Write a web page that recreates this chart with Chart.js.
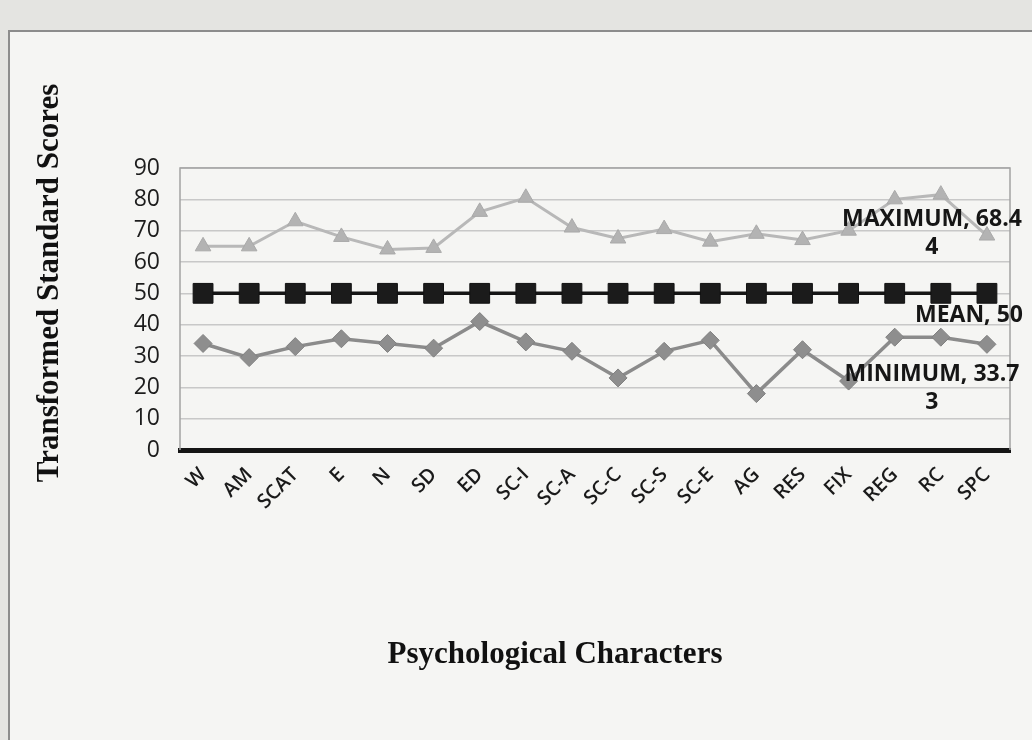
<!DOCTYPE html>
<html>
<head>
<meta charset="utf-8">
<title>Psychological Characters</title>
<script src="https://cdn.jsdelivr.net/npm/chart.js@4.4.1/dist/chart.umd.min.js"></script>
<style>
    html, body { margin: 0; padding: 0; }
    body { width: 1032px; height: 740px; background: #e4e4e1; position: relative; overflow: hidden; }
    .frame {
        position: absolute; left: 8px; top: 30px; width: 1040px; height: 730px;
        border-left: 2px solid #8c8c8c; border-top: 2px solid #8c8c8c;
        background: #f5f5f3;
    }
    #profileChart { position: absolute; left: 0; top: 0; }
</style>
</head>
<body>
<div class="frame"></div>
<canvas id="profileChart" width="1032" height="740"></canvas>
<script>
'use strict';

// T-score profile per psychological character
var characters = ['W', 'AM', 'SCAT', 'E', 'N', 'SD', 'ED', 'SC-I', 'SC-A', 'SC-C',
                  'SC-S', 'SC-E', 'AG', 'RES', 'FIX', 'REG', 'RC', 'SPC'];
var maximum = [65, 65, 73, 68, 64, 64.5, 76, 80.5, 71, 67.5, 70.5, 66.5, 69, 67, 70, 80, 81.5, 68.44];
var mean    = [50, 50, 50, 50, 50, 50, 50, 50, 50, 50, 50, 50, 50, 50, 50, 50, 50, 50];
var minimum = [34, 29.5, 33, 35.5, 34, 32.5, 41, 34.5, 31.5, 23, 31.5, 35, 18, 32, 22, 36, 36, 33.73];
var scoreTicks = { min: 0, max: 90, step: 10 };

var sans = '"Open Sans", "Liberation Sans", sans-serif';
var serif = '"Liberation Serif", "Times New Roman", serif';

// char-wrap a label so it never gets wider than the label box
function wrapLabel(ctx, text, width) {
    var lines = [], line = '';
    for (var i = 0; i < text.length; i++) {
        var next = line + text[i];
        if (line && ctx.measureText(next).width > width) {
            lines.push(line);
            line = text[i];
        } else {
            line = next;
        }
    }
    if (line) lines.push(line);
    return lines;
}

// thin frame round the plot (bottom edge is the axis line)
var plotFrame = {
    id: 'plotFrame',
    beforeDatasetsDraw: function (chart) {
        var a = chart.chartArea, ctx = chart.ctx;
        ctx.save();
        ctx.strokeStyle = '#a3a3a3';
        ctx.lineWidth = 1.5;
        ctx.beginPath();
        ctx.moveTo(a.left, a.bottom);
        ctx.lineTo(a.left, a.top);
        ctx.lineTo(a.right, a.top);
        ctx.lineTo(a.right, a.bottom);
        ctx.stroke();
        ctx.restore();
    }
};

// "SERIES, value" label next to the last point of each line
var endLabels = {
    id: 'endLabels',
    afterDatasetsDraw: function (chart, args, opts) {
        var ctx = chart.ctx;
        ctx.save();
        ctx.font = opts.font;
        ctx.fillStyle = opts.color;
        ctx.textAlign = 'center';
        ctx.textBaseline = 'middle';
        chart.data.datasets.forEach(function (ds, i) {
            var last = ds.data.length - 1;
            var pt = chart.getDatasetMeta(i).data[last];
            var off = opts.offsets[ds.label];
            var lines = wrapLabel(ctx, ds.label + ', ' + ds.data[last], opts.boxWidth);
            lines.forEach(function (line, j) {
                ctx.fillText(line, pt.x + off.x, pt.y + off.y + j * opts.lineHeight);
            });
        });
        ctx.restore();
    }
};

// free-floating axis titles, placed like the spreadsheet's title boxes
var axisTitles = {
    id: 'axisTitles',
    afterDraw: function (chart, args, opts) {
        var ctx = chart.ctx;
        ctx.save();
        ctx.font = opts.font;
        ctx.fillStyle = opts.color;
        ctx.textAlign = 'center';
        ctx.textBaseline = 'middle';
        ctx.fillText(opts.x.text, opts.x.cx, opts.x.cy);
        ctx.translate(opts.y.cx, opts.y.cy);
        ctx.rotate(-Math.PI / 2);
        ctx.fillText(opts.y.text, 0, 0);
        ctx.restore();
    }
};

new Chart(document.getElementById('profileChart'), {
    type: 'line',
    data: {
        labels: characters,
        datasets: [
            {
                label: 'MAXIMUM',
                data: maximum,
                borderColor: '#b8b8b8',
                borderWidth: 3,
                pointStyle: 'triangle',
                pointRadius: 9,
                pointBackgroundColor: '#b3b3b3',
                pointBorderColor: '#a9a9a9',
                pointBorderWidth: 1,
                tension: 0
            },
            {
                label: 'MEAN',
                data: mean,
                borderColor: '#151515',
                borderWidth: 3.5,
                pointStyle: 'rect',
                pointRadius: 14,
                pointBackgroundColor: '#1b1b1b',
                pointBorderColor: '#111',
                pointBorderWidth: 1,
                tension: 0
            },
            {
                label: 'MINIMUM',
                data: minimum,
                borderColor: '#8b8b8b',
                borderWidth: 3.5,
                pointStyle: 'rectRot',
                pointRadius: 9,
                pointBackgroundColor: '#8e8e8e',
                pointBorderColor: '#808080',
                pointBorderWidth: 1,
                tension: 0
            }
        ]
    },
    options: {
        responsive: false,
        animation: false,
        layout: { padding: { left: 10, right: 22, top: 168, bottom: 0 } },
        plugins: {
            legend: { display: false },
            tooltip: { enabled: false },
            endLabels: {
                font: 'bold 23px ' + sans,
                color: '#161616',
                boxWidth: 180,
                lineHeight: 28,
                offsets: {
                    MAXIMUM: { x: -55, y: -16 },
                    MEAN: { x: -18, y: 22 },
                    MINIMUM: { x: -55, y: 30 }
                }
            },
            axisTitles: {
                font: 'bold 31px ' + serif,
                color: '#111',
                x: { text: 'Psychological Characters', cx: 555, cy: 655 },
                y: { text: 'Transformed Standard Scores', cx: 50, cy: 283 }
            }
        },
        scales: {
            x: {
                offset: true,
                grid: { display: false, drawTicks: false },
                border: { color: '#151515', width: 5 },
                ticks: {
                    autoSkip: false,
                    minRotation: 45,
                    maxRotation: 45,
                    padding: 13,
                    color: '#1a1a1a',
                    font: { family: sans, size: 20, weight: '600' }
                },
                afterFit: function (scale) { scale.height = 290; }
            },
            y: {
                min: scoreTicks.min,
                max: scoreTicks.max,
                grid: { color: '#c8c8c8', lineWidth: 1.4, drawTicks: false },
                border: { display: false },
                ticks: {
                    stepSize: scoreTicks.step,
                    padding: 20,
                    color: '#1c1c1c',
                    font: { family: sans, size: 23 }
                },
                afterFit: function (scale) { scale.width = 170; }
            }
        }
    },
    plugins: [plotFrame, endLabels, axisTitles]
});
</script>
</body>
</html>
